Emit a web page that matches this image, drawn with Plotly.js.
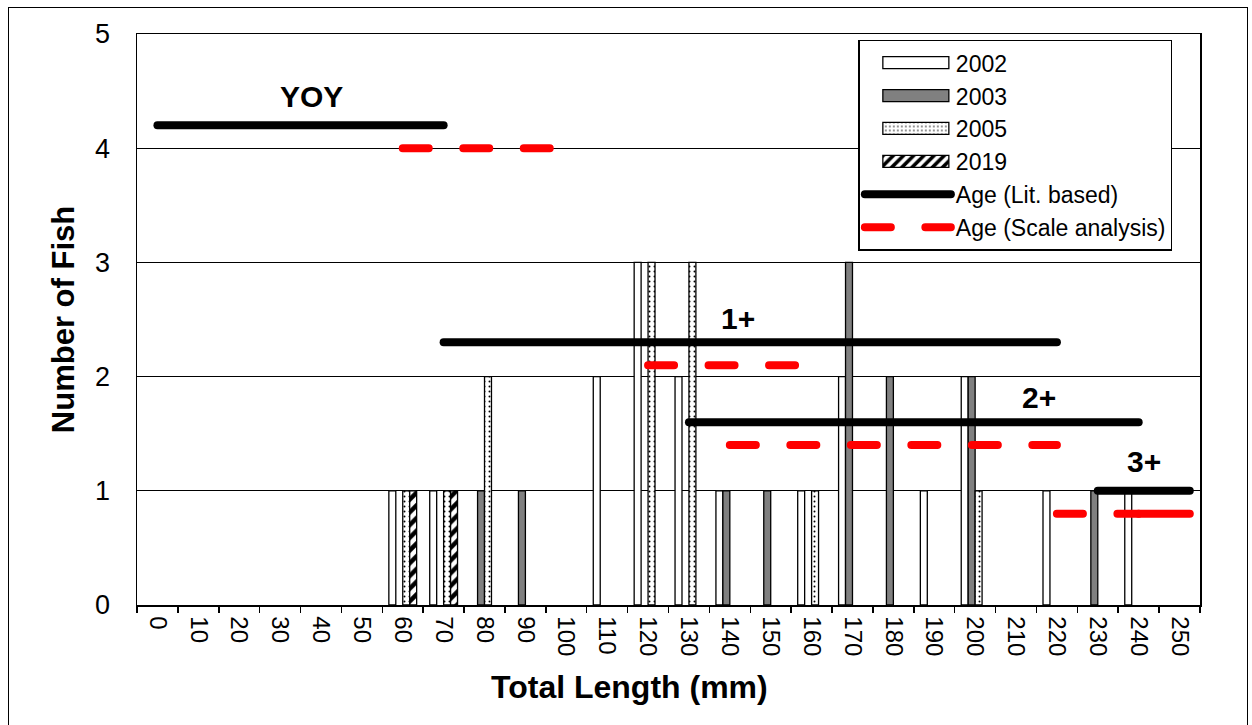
<!DOCTYPE html>
<html>
<head>
<meta charset="utf-8">
<script src="https://cdn.plot.ly/plotly-3.0.1.min.js"></script>
<style>
  html, body { margin: 0; padding: 0; background: #fff; }
  #wrap { position: relative; width: 1252px; height: 725px; overflow: hidden; }
  #chart { width: 1252px; height: 725px; }
  #frame { position: absolute; left: 8px; top: 7px; width: 1240px; height: 740px;
           border: 1.5px solid #000; pointer-events: none; box-sizing: border-box; }
  /* rounded ends on the age range bars */
  .scatterlayer .js-line, .legend .js-line { stroke-linecap: round; }
</style>
</head>
<body>
<div id="wrap">
  <div id="chart"></div>
  <div id="frame"></div>
</div>
<script>
// Length classes (mm)
const lengthClasses = [0, 10, 20, 30, 40, 50, 60, 70, 80, 90, 100, 110, 120,
                       130, 140, 150, 160, 170, 180, 190, 200, 210, 220, 230, 240, 250];

// Number of fish per length class, by sampling year
const fish2002 = [0, 0, 0, 0, 0, 0, 1, 1, 0, 0, 0, 2, 3, 2, 1, 0, 1, 2, 0, 1, 2, 0, 1, 0, 1, 0];
const fish2003 = [0, 0, 0, 0, 0, 0, 0, 0, 1, 1, 0, 0, 0, 0, 1, 1, 0, 3, 2, 0, 2, 0, 0, 1, 0, 0];
const fish2005 = [0, 0, 0, 0, 0, 0, 1, 1, 2, 0, 0, 0, 3, 3, 0, 0, 1, 0, 0, 0, 1, 0, 0, 0, 0, 0];
const fish2019 = [0, 0, 0, 0, 0, 0, 1, 1, 0, 0, 0, 0, 0, 0, 0, 0, 0, 0, 0, 0, 0, 0, 0, 0, 0, 0];

// Age classes and their length ranges (mm)
const ageClasses   = ['YOY', '1+', '2+', '3+'];
const litFrom      = [0, 70, 130, 230];
const litTo        = [70, 220, 240, 252.5];
const litLevel     = [4.2, 2.3, 1.6, 1.0];
const scaleFrom    = [60, 120, 140, 220];
const scaleTo      = [100, 160, 220, 240];
const scaleLevel   = [4.0, 2.1, 1.4, 0.8];
// solid continuation of the 3+ scale-analysis range
const scaleTailFrom  = [240];
const scaleTailTo    = [252.5];
const scaleTailLevel = [0.8];

// where each age label sits (data coordinates)
const labelX = [37.6, 142, 215.6, 241.3];
const labelY = [4.45, 2.51, 1.82, 1.26];

const FONT = 'Liberation Sans, Arial, sans-serif';

function segments(from, to, level) {
  const xs = [], ys = [];
  from.forEach((f, i) => {
    xs.push(f, to[i], null);
    ys.push(level[i], level[i], null);
  });
  return { x: xs, y: ys };
}

// empty classes are left without a bar
const nz = arr => arr.map(v => (v === 0 ? null : v));

const outline = { color: '#000', width: 1.3 };

const traces = [
  { type: 'bar', name: '2002', x: lengthClasses, y: nz(fish2002),
    marker: { color: '#ffffff', line: outline } },
  { type: 'bar', name: '2003', x: lengthClasses, y: nz(fish2003),
    marker: { color: '#808080', line: outline } },
  { type: 'bar', name: '2005', x: lengthClasses, y: nz(fish2005),
    marker: { color: '#ffffff', line: outline,
              pattern: { shape: '.', fgcolor: '#000', bgcolor: '#fff', size: 5, solidity: 0.12 } } },
  { type: 'bar', name: '2019', x: lengthClasses, y: nz(fish2019),
    marker: { color: '#ffffff', line: outline,
              pattern: { shape: '/', fgcolor: '#000', bgcolor: '#fff', size: 9, solidity: 0.5 } } }
];

const lit = segments(litFrom, litTo, litLevel);
traces.push({ type: 'scatter', mode: 'lines', name: 'Age (Lit. based)',
  x: lit.x, y: lit.y, connectgaps: false, hoverinfo: 'skip',
  line: { color: '#000', width: 8 } });

const sca = segments(scaleFrom, scaleTo, scaleLevel);
traces.push({ type: 'scatter', mode: 'lines', name: 'Age (Scale analysis)',
  x: sca.x, y: sca.y, connectgaps: false, hoverinfo: 'skip',
  line: { color: '#ff0000', width: 8, dash: '26px,34.5px' } });

const tail = segments(scaleTailFrom, scaleTailTo, scaleTailLevel);
traces.push({ type: 'scatter', mode: 'lines', name: 'Age (Scale analysis)',
  x: tail.x, y: tail.y, showlegend: false, hoverinfo: 'skip',
  line: { color: '#ff0000', width: 8 } });

const classEdges = lengthClasses.map(c => c - 5).concat([lengthClasses[lengthClasses.length - 1] + 5]);

const annotations = ageClasses.map((t, i) => ({
  x: labelX[i], y: labelY[i], xref: 'x', yref: 'y',
  text: '<b>' + t + '</b>', showarrow: false,
  font: { family: FONT, size: 30, color: '#000' }
}));

// x-axis title
annotations.push({
  xref: 'paper', yref: 'paper', x: 0.463, y: -0.1436,
  xanchor: 'center', yanchor: 'middle', showarrow: false,
  text: '<b>Total Length (mm)</b>',
  font: { family: FONT, size: 32, color: '#000' }
});

const layout = {
  width: 1252, height: 725,
  margin: { l: 137, r: 52, t: 34, b: 120 },
  paper_bgcolor: '#fff', plot_bgcolor: '#fff',
  font: { family: FONT, color: '#000' },
  barmode: 'group', bargap: 0.32, bargroupgap: 0,
  showlegend: true,
  legend: {
    x: 0.6786, y: 0.99, xanchor: 'left', yanchor: 'top',
    bgcolor: '#fff', bordercolor: '#000', borderwidth: 1.5,
    font: { family: FONT, size: 23, color: '#000' },
    traceorder: 'normal', tracegroupgap: 0, itemwidth: 86,
    entrywidth: 230, entrywidthmode: 'pixels'
  },
  xaxis: {
    type: 'linear', range: [-5, 255],
    tickmode: 'array', tickvals: lengthClasses, ticktext: lengthClasses.map(String),
    tickangle: 90, ticks: '', ticklabelstandoff: 5,
    tickfont: { family: FONT, size: 24, color: '#000' },
    showline: true, linecolor: '#000', linewidth: 1.5, mirror: true,
    showgrid: false, zeroline: false,
    minor: { tickmode: 'array', tickvals: classEdges, ticks: 'outside', ticklen: 6,
             tickwidth: 1.5, tickcolor: '#000', showgrid: false }
  },
  yaxis: {
    range: [0, 5], tickmode: 'array', tickvals: [0, 1, 2, 3, 4, 5],
    ticks: '', ticklabelstandoff: 20,
    tickfont: { family: FONT, size: 27, color: '#000' },
    showline: true, linecolor: '#000', linewidth: 1.5, mirror: true,
    showgrid: true, gridcolor: '#000', gridwidth: 1.2, zeroline: false,
    title: { text: '<b>Number of Fish</b>', font: { family: FONT, size: 31, color: '#000' }, standoff: 11 }
  },
  annotations: annotations
};

// wide rectangular swatches for the bar series in the legend
function widenBarSwatches(gd) {
  gd.querySelectorAll('.legend .legendpoints path').forEach(p => {
    const d = (p.getAttribute('d') || '').replace(/\s/g, '');
    if (d === 'M6,6H-6V-6H6Z' || p.classList.contains('legendbar')) {
      p.setAttribute('d', 'M41,6H-25V-6H41Z');
    }
  });
}

const gd = document.getElementById('chart');
Plotly.newPlot(gd, traces, layout, { displayModeBar: false, staticPlot: true })
  .then(() => {
    widenBarSwatches(gd);
    gd.on && gd.on('plotly_afterplot', () => widenBarSwatches(gd));
    setTimeout(() => widenBarSwatches(gd), 50);
  });
</script>
</body>
</html>
